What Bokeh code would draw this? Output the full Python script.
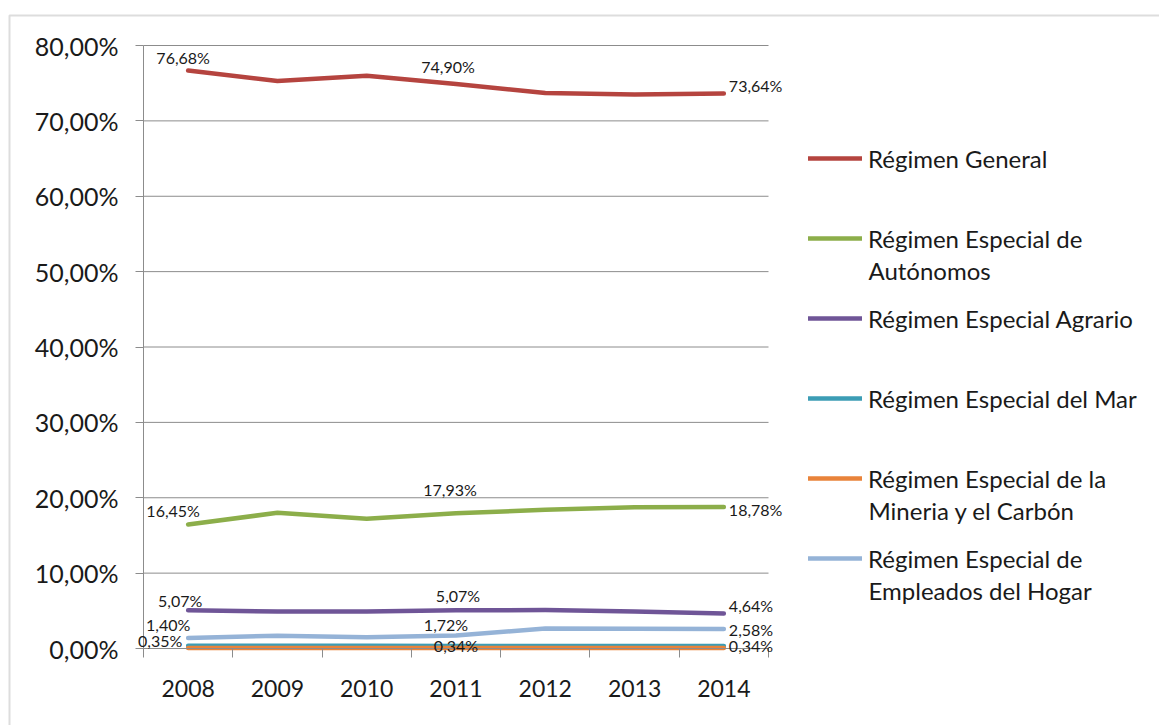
from bokeh.plotting import figure
from bokeh.models import (Range1d, FixedTicker, Legend, LegendItem, Label,
                          BoxAnnotation, LinearAxis)
from bokeh.embed import file_html
from bokeh.resources import INLINE

# ---------------- data ----------------
years = ["2008", "2009", "2010", "2011", "2012", "2013", "2014"]
general = [76.68, 75.30, 76.00, 74.90, 73.70, 73.50, 73.64]
autonomos = [16.45, 18.00, 17.20, 17.93, 18.40, 18.75, 18.78]
agrario = [5.07, 4.90, 4.90, 5.07, 5.10, 4.90, 4.64]
mar = [0.35, 0.35, 0.35, 0.34, 0.34, 0.34, 0.34]
mineria = [0.08, 0.08, 0.07, 0.07, 0.06, 0.06, 0.06]
hogar = [1.40, 1.70, 1.50, 1.72, 2.65, 2.62, 2.58]
y_ticks = [0, 10, 20, 30, 40, 50, 60, 70, 80]
labeled_idx = [0, 3, 6]

series_names = [
    ("Régimen General", ""),
    ("Régimen Especial de", "Autónomos"),
    ("Régimen Especial Agrario", ""),
    ("Régimen Especial del Mar", ""),
    ("Régimen Especial de la", "Mineria y el Carbón"),
    ("Régimen Especial de", "Empleados del Hogar"),
]
series_values = [general, autonomos, agrario, mar, mineria, hogar]

# ---------------- styles / layout ----------------
colors = ["#B5443F", "#8CAE4A", "#6F5597", "#3C9DB5", "#E9833A", "#95B3D7"]
label_offsets = {
    0: [(-5, 13, "center"), (-8, 17, "center"), (5, 8, "left")],
    1: [(-15, 14, "center"), (-6, 24, "center"), (5, -3, "left")],
    2: [(-8, 10, "center"), (2, 15, "center"), (5, 8, "left")],
    3: [(-28, 5, "center"), (0, 0, "center"), (5, 0, "left")],
    5: [(-20, 13, "center"), (-10, 11, "center"), (5, 0, "left")],
}
FONT = "Lato"
GRAY = "#8C8C8C"
TXT = "#1a1a1a"

W, H = 1159, 725
X0_PX, X1_PX = 143, 768      # plot area left/right
Y0_PX, Y80_PX = 648, 45      # pixel rows of 0% and 80%
PX_PER_CAT = (X1_PX - X0_PX) / len(years)
PX_PER_PCT = (Y0_PX - Y80_PX) / y_ticks[-1]

xs = [i + 0.5 for i in range(len(years))]

p = figure(width=W, height=H, output_backend="svg", toolbar_location=None,
           x_range=Range1d(-X0_PX / PX_PER_CAT, (W - X0_PX) / PX_PER_CAT),
           y_range=Range1d(-(H - Y0_PX) / PX_PER_PCT, Y0_PX / PX_PER_PCT),
           x_axis_location=None, y_axis_location=None,
           min_border_left=0, min_border_right=0, min_border_top=0,
           min_border_bottom=0)
p.outline_line_color = None
p.background_fill_color = "white"
p.border_fill_color = "white"
p.xgrid.visible = False
p.ygrid.visible = False

# outer chart border (top and left visible)
p.add_layout(BoxAnnotation(left=(9 - X0_PX) / PX_PER_CAT,
                           top=(Y0_PX - 15) / PX_PER_PCT,
                           right=(W + 50 - X0_PX) / PX_PER_CAT,
                           bottom=-(H + 50 - Y0_PX) / PX_PER_PCT,
                           fill_alpha=0, line_color="#8E8E8E", line_width=2))

# horizontal gridlines limited to the plot area
p.segment(x0=[0] * len(y_ticks), x1=[len(years)] * len(y_ticks),
          y0=y_ticks, y1=y_ticks, line_color=GRAY, line_width=1)

# axes
xaxis = LinearAxis(fixed_location=0, bounds=(0, len(years)))
xaxis.ticker = FixedTicker(ticks=xs, minor_ticks=list(range(len(years) + 1)))
xaxis.major_label_overrides = {x: y for x, y in zip(xs, years)}
xaxis.major_tick_out = 0
xaxis.major_tick_in = 0
xaxis.minor_tick_out = 9
xaxis.minor_tick_in = 0
xaxis.minor_tick_line_color = GRAY
xaxis.axis_line_color = GRAY
xaxis.major_label_standoff = 22
xaxis.major_label_text_font = FONT
xaxis.major_label_text_font_size = "23px"
xaxis.major_label_text_color = TXT
p.add_layout(xaxis, "below")

yaxis = LinearAxis(fixed_location=0, bounds=(0, y_ticks[-1]))
yaxis.ticker = FixedTicker(ticks=y_ticks, minor_ticks=[])
yaxis.major_label_overrides = {t: f"{t:.2f}".replace(".", ",") + "%" for t in y_ticks}
yaxis.major_tick_out = 8
yaxis.major_tick_in = 0
yaxis.minor_tick_line_color = None
yaxis.major_tick_line_color = GRAY
yaxis.axis_line_color = GRAY
yaxis.major_label_standoff = 17
yaxis.major_label_text_font = FONT
yaxis.major_label_text_font_size = "25px"
yaxis.major_label_text_color = TXT
p.add_layout(yaxis, "left")

# lines
order = [0, 1, 2, 5, 3, 4]
rmap = {}
for i in order:
    rmap[i] = p.line(xs, series_values[i], line_color=colors[i], line_width=4.5,
                     line_join="round", line_cap="round")

# data labels
for si, offs in label_offsets.items():
    vals = series_values[si]
    for k, idx in enumerate(labeled_idx):
        dx, dy, align = offs[k]
        p.add_layout(Label(x=xs[idx], y=vals[idx], x_offset=dx, y_offset=dy,
                           text=f"{vals[idx]:.2f}".replace(".", ",") + "%",
                           text_align=align, text_baseline="middle",
                           text_font=FONT, text_font_size="16px",
                           text_color=TXT))

# legend
items = [LegendItem(label=series_names[i][0], renderers=[rmap[i]]) for i in range(6)]
legend = Legend(items=items, location=(808, H - 573), glyph_width=54,
                glyph_height=30, label_height=30, label_standoff=6, spacing=50,
                padding=0, margin=0, border_line_color=None,
                background_fill_alpha=0, label_text_font=FONT,
                label_text_font_size="24px", label_text_color=TXT)
p.add_layout(legend)

second_line_y = {1: 270, 4: 510, 5: 590}
for i, yy in second_line_y.items():
    p.add_layout(Label(x=868, y=H - yy, x_units="screen", y_units="screen",
                       text=series_names[i][1], text_baseline="middle",
                       text_font=FONT, text_font_size="24px", text_color=TXT))

open("out.html", "w").write(file_html(p, INLINE))
